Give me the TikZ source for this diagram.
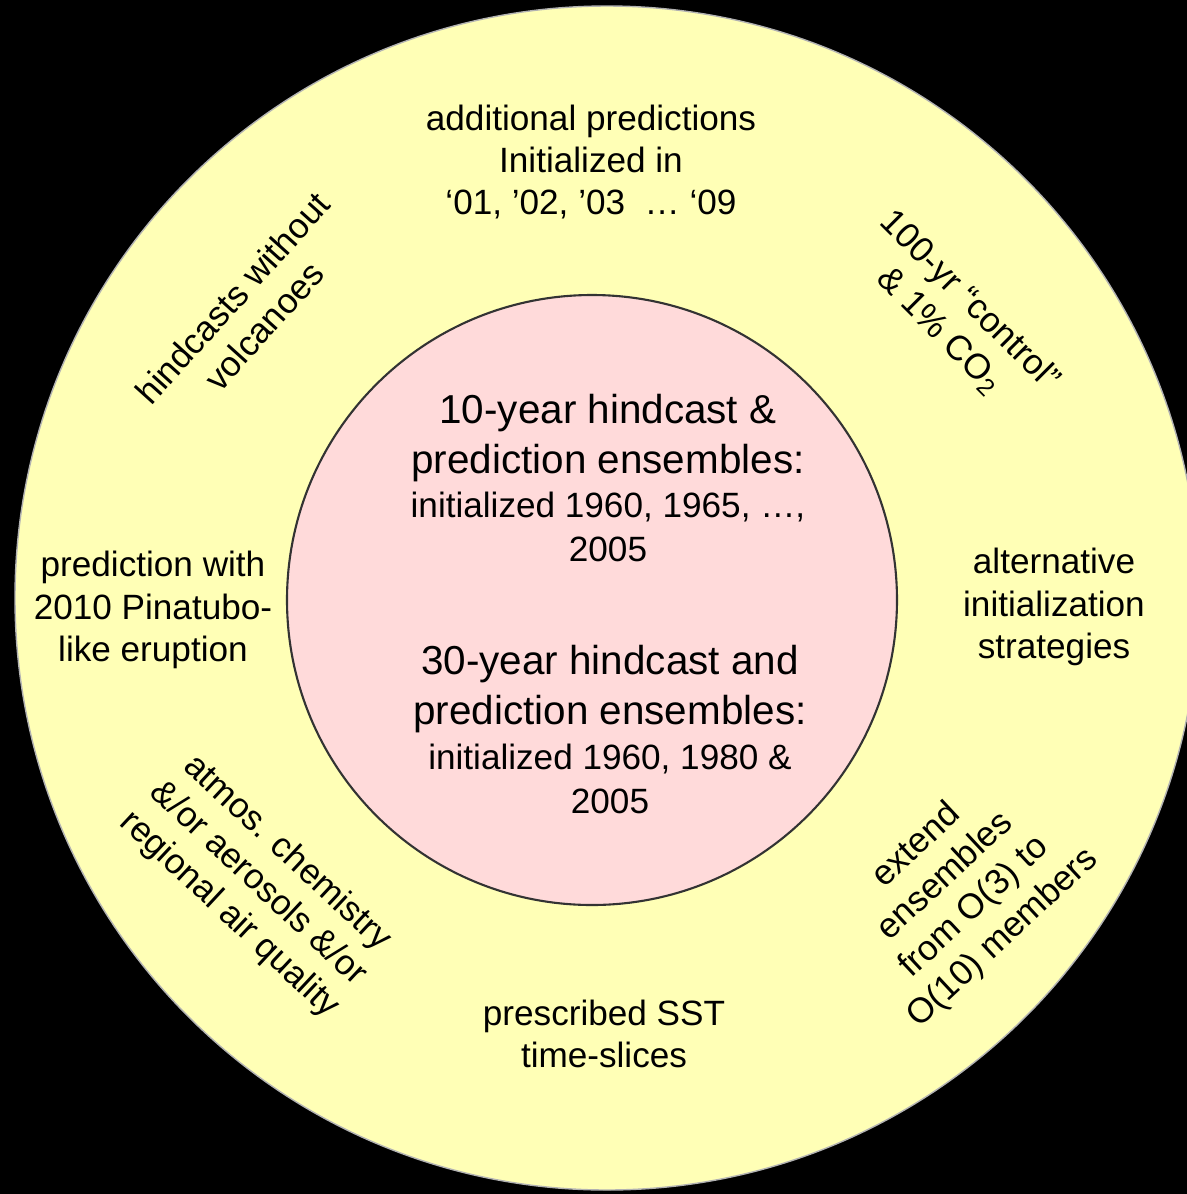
\documentclass[tikz,border=0pt]{standalone}
\usepackage{fontspec}
\setmainfont{Liberation Sans}
\definecolor{ringyellow}{RGB}{255,255,182}
\definecolor{corepink}{RGB}{255,218,218}
\tikzset{
    ringtext/.style={align=center, inner sep=0pt, font=\fontsize{10}{12}\selectfont},
    corebig/.style={align=center, inner sep=0pt, font=\fontsize{11.5}{14.2}\selectfont},
    coresmall/.style={align=center, inner sep=0pt, font=\fontsize{10}{12.6}\selectfont},
}
\begin{document}
\begin{tikzpicture}
    \fill[black] (0,0) rectangle (11.87,-11.94);
    \useasboundingbox (0,0) rectangle (11.87,-11.94);
    % rings
    \filldraw[fill=ringyellow, draw=gray!60, thin] (6.07,-5.98) circle (5.92);
    \filldraw[fill=corepink, draw=black!80, semithick] (5.92,-6.00) circle (3.05);
    % core
    \node[corebig] (tenbig) at (6.08,-4.38) {10-year hindcast \&\\prediction ensembles:};
    \node[coresmall] (tensmall) at (6.08,-5.27) {initialized 1960, 1965, …,\\2005};
    \node[corebig] (thirtybig) at (6.10,-6.89) {30-year hindcast and\\prediction ensembles:};
    \node[coresmall] (thirtysmall) at (6.10,-7.79) {initialized 1960, 1980 \&\\2005};
    % ring
    \node[ringtext] (top) at (5.91,-1.62) {additional predictions\\Initialized in\\‘01, ’02, ’03 \ … ‘09};
    \node[ringtext] (left) at (1.53,-6.10) {prediction with\\2010 Pinatubo-\\like eruption};
    \node[ringtext] (right) at (10.54,-6.07) {alternative\\initialization\\strategies};
    \node[ringtext] (bottom) at (6.04,-10.34) {prescribed SST\\time-slices};
    \node[ringtext, rotate=48] (upleft) at (2.48,-3.12) {hindcasts without\\volcanoes};
    \node[ringtext, rotate=-45] (upright) at (9.55,-3.16) {100-yr “control”\\\& 1\% CO\textsubscript{2}};
    \node[ringtext, rotate=-43] (lowleft) at (2.58,-8.84) {atmos. chemistry\\\&/or aerosols \&/or\\regional air quality};
    \node[ringtext, rotate=43] (lowright) at (9.60,-8.92) {extend\\ensembles\\from O(3) to\\O(10) members};
\end{tikzpicture}
\end{document}
